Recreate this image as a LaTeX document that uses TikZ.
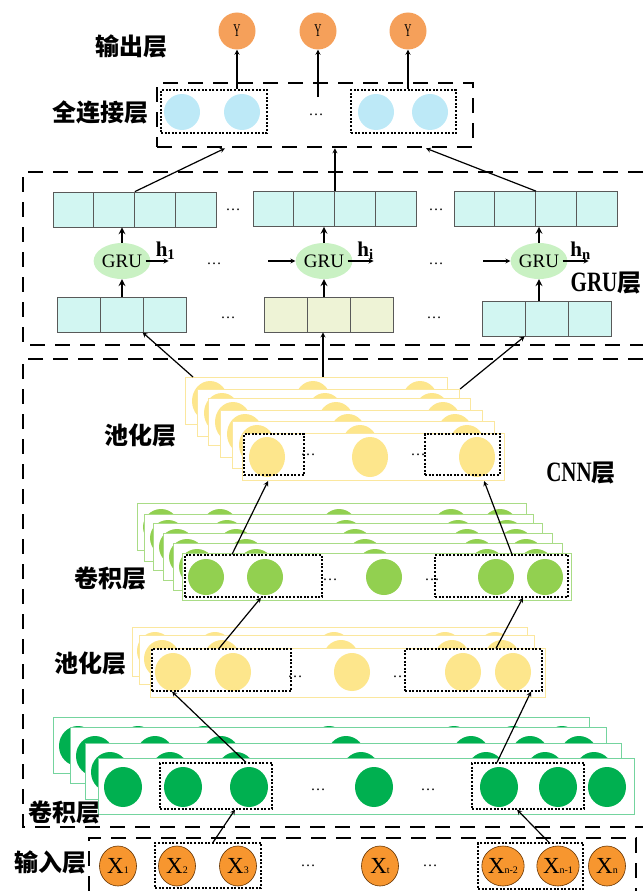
\documentclass[tikz,border=0pt]{standalone}
\usepackage{fontspec}
\usepackage{graphicx}
\setmainfont{Liberation Serif}
\newfontfamily\cjk{Noto Sans CJK SC}
\usetikzlibrary{arrows,shapes.geometric,positioning}

\definecolor{yorange}{HTML}{F5A05A}
\definecolor{fcblue}{HTML}{BDE9F7}
\definecolor{grucell}{HTML}{D2F6F2}
\definecolor{grumid}{HTML}{EEF3D6}
\definecolor{gruell}{HTML}{C9F1C3}
\definecolor{poolfill}{HTML}{FDE68C}
\definecolor{poolline}{HTML}{FBE79E}
\definecolor{convlight}{HTML}{92D050}
\definecolor{convlline}{HTML}{A9DC86}
\definecolor{convdark}{HTML}{00B050}
\definecolor{convdline}{HTML}{74D49E}
\definecolor{xorange}{HTML}{F7962F}

\newcommand{\Xs}[1]{{\fontsize{23}{23}\selectfont X}{\fontsize{10}{10}\selectfont #1}}
\newcommand{\Yc}{\scalebox{0.55}[1]{\fontsize{18}{18}\selectfont Y}}
\newcommand{\Cond}[1]{\scalebox{0.75}[1]{\bfseries\fontsize{28}{28}\selectfont #1}}

\tikzstyle{lab} = [font=\cjk\bfseries\fontsize{24}{26}\selectfont, inner sep=0pt]
\tikzstyle{ynode} = [circle, fill=yorange, minimum size=37pt, inner sep=0pt]
\tikzstyle{fcn} = [circle, fill=fcblue, minimum size=36pt, inner sep=0pt]
\tikzstyle{cell} = [rectangle, draw=black!65, line width=0.8pt, fill=grucell, minimum width=40.75pt, minimum height=35pt, inner sep=0pt]
\tikzstyle{cellb} = [cell, minimum width=43pt]
\tikzstyle{gru} = [ellipse, fill=gruell, minimum width=52pt, minimum height=36pt, inner sep=0pt, font=\fontsize{19}{19}\selectfont]
\tikzstyle{xnode} = [ellipse, draw=black!60!orange, line width=0.6pt, fill=xorange, minimum width=37pt, minimum height=40pt, inner sep=0pt]
\tikzstyle{dotbox} = [draw, line width=1.2pt, dash pattern=on 2pt off 1.6pt, inner sep=0pt]
\tikzstyle{grp} = [line width=2.6pt, dash pattern=on 15pt off 10pt]
\tikzstyle{arr} = [-stealth, line width=1.2pt]
\tikzstyle{tarr} = [-stealth, line width=2pt]
\tikzstyle{dotsn} = [font=\fontsize{15}{15}\selectfont, inner sep=0pt]
\tikzstyle{hlab} = [font=\bfseries\fontsize{21}{21}\selectfont, inner sep=1pt]
\tikzstyle{poolr} = [rectangle, draw=poolline, line width=1.1pt, fill=white, inner sep=0pt, anchor=north west]
\tikzstyle{c2r} = [poolr, draw=convlline]
\tikzstyle{c1r} = [poolr, draw=convdline]

\begin{document}
\begin{tikzpicture}[x=1pt, y=-1pt]
    \useasboundingbox (0,0) rectangle (643,891);

    % output and fully connected layer
    \node (y1) [ynode] at (237,31) {\Yc};
    \node (y2) [ynode] at (318,31) {\Yc};
    \node (y3) [ynode] at (408,31) {\Yc};
    \node (outlab) [lab] at (131,46) {输出层};
    \node (fclab) [lab] at (100,112) {全连接层};
    \node (fcbox) [draw, grp, minimum width=316pt, minimum height=64pt] at (315,115) {};
    \node (fc1) [fcn] at (182,112) {};
    \node (fc2) [fcn] at (242,112) {};
    \node (fc3) [fcn] at (376,112) {};
    \node (fc4) [fcn] at (430,112) {};
    \node (fcA) [dotbox, minimum width=106pt, minimum height=43pt] at (214,111.5) {};
    \node (fcB) [dotbox, minimum width=105pt, minimum height=43pt] at (403.5,111.5) {};
    \node (fcdots) [dotsn] at (316,115) {\dots};
    \coordinate (fcmid) at (318,97);
    \draw [arr] (y1 |- fcA.north) -- (y1);
    \draw [arr] (fcmid) -- (y2);
    \draw [arr] (y3 |- fcB.north) -- (y3);

    % GRU layer
    \draw [grp] (643,172) -- (23,172) -- (23,345) -- (643,345);
    \foreach \i in {1,...,4} {
        \node (ta\i) [cell] at (53+40.75*\i-20.375,209.5) {};
        \node (tb\i) [cell] at (253+40.75*\i-20.375,209) {};
        \node (tc\i) [cell] at (454+40.75*\i-20.375,209) {};
    }
    \foreach \i in {1,2,3} {
        \node (ba\i) [cellb] at (57+43*\i-21.5,314.5) {};
        \node (bb\i) [cellb, fill=grumid] at (264+43*\i-21.5,314.5) {};
        \node (bc\i) [cellb] at (482+43*\i-21.5,318.5) {};
    }
    \node (gru1) [gru] at (122,261) {GRU};
    \node (gru2) [gru] at (324,261) {GRU};
    \node (gru3) [gru] at (539,261) {GRU};
    \node (td1) [dotsn] at (233,210) {\dots};
    \node (td2) [dotsn] at (436,210) {\dots};
    \node (gd1) [dotsn] at (214,264) {\dots};
    \node (gd2) [dotsn] at (436,264) {\dots};
    \node (bd1) [dotsn] at (228,318) {\dots};
    \node (bd2) [dotsn] at (434,318) {\dots};
    \node (grulab) [inner sep=0pt] at (606,283) {\Cond{GRU}{\cjk\bfseries\fontsize{24}{24}\selectfont 层}};

    \draw [tarr] (gru1.north) -- (gru1 |- ta1.south);
    \draw [tarr] (gru2.north) -- (gru2 |- tb1.south);
    \draw [tarr] (gru3.north) -- (gru3 |- tc1.south);
    \draw [tarr] (gru1 |- ba1.north) -- (gru1.south);
    \draw [tarr] (gru2 |- bb1.north) -- (gru2.south);
    \draw [tarr] (gru3 |- bc1.north) -- (gru3.south);
    \draw [arr] ([xshift=-5pt]gru1.east) -- ++(23,0) node[hlab, anchor=south, xshift=-3pt] {h\textsubscript{1}};
    \draw [arr] ([xshift=-5pt]gru2.east) -- ++(26,0) node[hlab, anchor=south, xshift=-8pt] {h\textsubscript{i}};
    \draw [arr] ([xshift=-5pt]gru3.east) -- ++(26,0) node[hlab, anchor=south, xshift=-8pt] {h\textsubscript{n}};
    \draw [arr] ([xshift=-27pt]gru2.west) -- (gru2.west);
    \draw [arr] ([xshift=-27pt]gru3.west) -- (gru3.west);
    \draw [arr] (ta2.north east) -- ([xshift=-90pt]fcbox.south);
    \draw [arr] (tb2.north east) -- (tb2.north east |- fcbox.south);
    \draw [arr] (tc2.north east) -- ([xshift=111pt]fcbox.south);

    % CNN layer
    \draw [grp] (643,359) -- (23,359) -- (23,827) -- (643,827);
    \node (cnnlab) [inner sep=0pt] at (581,473) {\Cond{CNN}{\cjk\bfseries\fontsize{24}{24}\selectfont 层}};

    \foreach \lx/\ly [count=\i] in {185/377,197/389,208/398,220/410,232/421,242/433} {
        \node (p2r\i) [poolr, minimum width=262pt, minimum height=47pt] at (\lx,\ly) {};
        \foreach \cx in {25,128,235}
            \fill [poolfill] (\lx+\cx,\ly+24) ellipse (18pt and 20pt);
    }
    \node (p2A) [dotbox, minimum width=60pt, minimum height=41pt] at (274,454.5) {};
    \node (p2B) [dotbox, minimum width=75pt, minimum height=41pt] at (462.5,454.5) {};
    \node (p2d1) [dotsn] at (308,455) {\dots};
    \node (p2d2) [dotsn] at (418,455) {\dots};
    \node (p2lab) [lab] at (140,435) {池化层};

    \foreach \lx/\ly [count=\i] in {137/503,144/514,153/523,163/533,173/543,182/553} {
        \node (c2r\i) [c2r, minimum width=389pt, minimum height=47pt] at (\lx,\ly) {};
        \foreach \cx in {24,83,202,314,363}
            \fill [convlight] (\lx+\cx,\ly+24) ellipse (18pt and 18pt);
    }
    \node (c2A) [dotbox, minimum width=137pt, minimum height=42pt] at (253.5,576) {};
    \node (c2B) [dotbox, minimum width=133pt, minimum height=42pt] at (501.5,576) {};
    \node (c2d1) [dotsn] at (330,580) {\dots};
    \node (c2d2) [dotsn] at (432,580) {\dots};
    \node (c2lab) [lab] at (110,578) {卷积层};

    \foreach \lx/\ly [count=\i] in {132/627,139/635,150/648} {
        \node (p1r\i) [poolr, minimum width=395pt, minimum height=49pt] at (\lx,\ly) {};
        \foreach \cx in {23,83,202,313,363}
            \fill [poolfill] (\lx+\cx,\ly+24) ellipse (18pt and 19pt);
    }
    \node (p1A) [dotbox, minimum width=139pt, minimum height=42pt] at (221.5,670) {};
    \node (p1B) [dotbox, minimum width=137pt, minimum height=42pt] at (473.5,670) {};
    \node (p1d1) [dotsn] at (295,677) {\dots};
    \node (p1d2) [dotsn] at (400,677) {\dots};
    \node (p1lab) [lab] at (90,663) {池化层};

    \foreach \lx/\ly [count=\i] in {53/717,70/727,85/743,98/758} {
        \node (c1r\i) [c1r, minimum width=536pt, minimum height=56pt] at (\lx,\ly) {};
        \foreach \cx in {25,85,151,276,401,460,509}
            \fill [convdark] (\lx+\cx,\ly+29) ellipse (19pt and 20pt);
    }
    \node (c1A) [dotbox, minimum width=112pt, minimum height=46pt] at (216,786) {};
    \node (c1B) [dotbox, minimum width=112pt, minimum height=46pt] at (528,786) {};
    \node (c1d1) [dotsn] at (318,790) {\dots};
    \node (c1d2) [dotsn] at (428,790) {\dots};
    \node (c1lab) [lab] at (64,812) {卷积层};

    % input layer
    \draw [grp] (89,891) -- (89,838) -- (636,838) -- (636,891);
    \node (inlab) [lab] at (50,862) {输入层};
    \foreach \n/\xx/\s in {x1/118/1, x2/177/2, x3/238/3, xt/380/t, xa/503/n-2, xb/558/n-1, xn/607/n}
        \node (\n) [xnode] at (\xx,866) {\Xs{\s}};
    \node (inA) [dotbox, minimum width=106pt, minimum height=45pt] at (208,865.5) {};
    \node (inB) [dotbox, minimum width=105pt, minimum height=46pt] at (530.5,866) {};
    \node (ind1) [dotsn] at (308,866) {\dots};
    \node (ind2) [dotsn] at (430,866) {\dots};

    % connections between the stacks
    \draw [arr] ([xshift=5pt]inA.north) -- ([xshift=19pt]c1A.south);
    \draw [arr] ([xshift=18.5pt]inB.north) -- ([xshift=-11pt]c1B.south);
    \draw [arr] ([xshift=30pt]c1A.north) -- ([xshift=-49.5pt]p1A.south);
    \draw [arr] ([xshift=-31pt]c1B.north) -- ([xshift=57.5pt]p1B.south);
    \draw [arr] ([xshift=-2.5pt]p1A.north) -- ([xshift=7.5pt]c2A.south);
    \draw [arr] ([xshift=22.5pt]p1B.north) -- ([xshift=21.5pt]c2B.south);
    \draw [arr] ([xshift=-21.5pt]c2A.north) -- ([xshift=26pt]p2r6.south west);
    \draw [arr] ([xshift=10.5pt]c2B.north) -- ([xshift=-21pt]p2r6.south east);
    \coordinate (p2up) at ([xshift=138pt]p2r1.north west);
    \draw [arr] ([xshift=8pt]p2r1.north west) -- (ba3.south west);
    \draw [arr] (p2up) -- (p2up |- bb2.south);
    \draw [arr] (p2r2.north east) -- (bc2.south west);
\end{tikzpicture}
\end{document}
